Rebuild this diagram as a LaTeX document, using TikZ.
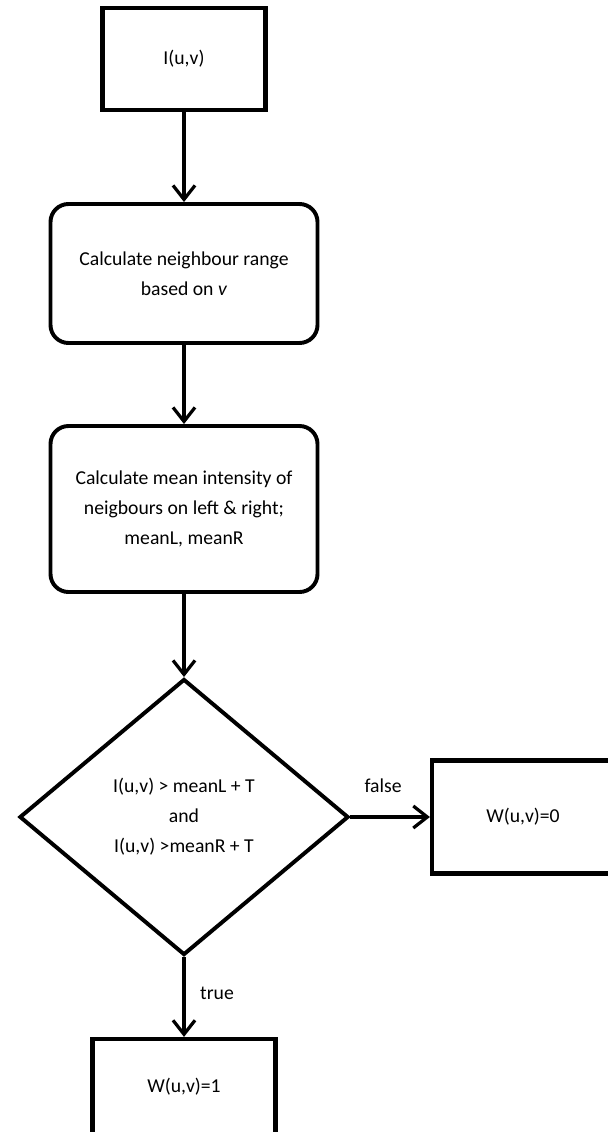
\documentclass[tikz,border=0pt]{standalone}
\usepackage{fontspec}
\setmainfont{Carlito}
\usetikzlibrary{arrows.meta}
\usetikzlibrary{shapes.geometric}
\tikzset{flow/.style = {-{Straight Barb[length=0.35cm, width=0.55cm]}, line width=2.3pt}}
\tikzset{txt/.style = {font=\fontsize{14pt}{21.3pt}\selectfont, align=center, inner sep=0pt}}
\tikzset{plainbox/.style = {txt, draw, line width=3pt, rectangle}}
\tikzset{roundbox/.style = {txt, draw, line width=2.8pt, rectangle, rounded corners=0.45cm,
                            minimum width=6.675cm}}
\tikzset{testbox/.style = {txt, draw, line width=2.8pt, diamond,
                           minimum width=8.225cm, minimum height=6.9cm}}

\begin{document}
\begin{tikzpicture}
      \useasboundingbox (0, 0) rectangle (15.175, -28.3);

      \node [plainbox, minimum width=4.075cm, minimum height=2.55cm] (input) at (4.6, -1.475) {I(u,v)};
      \node [roundbox, minimum height=3.475cm] (range) at (4.6, -6.8375)
            {Calculate neighbour range\\ based on \textit{v}};
      \node [roundbox, minimum height=4.15cm] (mean) at (4.6, -12.725)
            {Calculate mean intensity of\\ neigbours on left \& right;\\ meanL, meanR};
      \node [testbox] (test) at (4.6, -20.425)
            {I(u,v) > meanL + T\\ and\\ I(u,v) >meanR + T};
      \node [plainbox, minimum width=4.55cm, minimum height=2.825cm] (zero) at (13.075, -20.425) {W(u,v)=0};
      \node [plainbox, minimum width=4.575cm, minimum height=2.4cm] (one) at (4.6, -27.175) {W(u,v)=1};

      \draw [flow] (input) -- (range);
      \draw [flow] (range) -- (mean);
      \draw [flow] (mean) -- (test);
      \draw [flow] (test) -- (zero) node [txt, pos=0.41, yshift=0.775cm] (nofalse) {false};
      \draw [flow] (test) -- (one) node [txt, pos=0.46, xshift=0.825cm] (yestrue) {true};
    \end{tikzpicture}
\end{document}
